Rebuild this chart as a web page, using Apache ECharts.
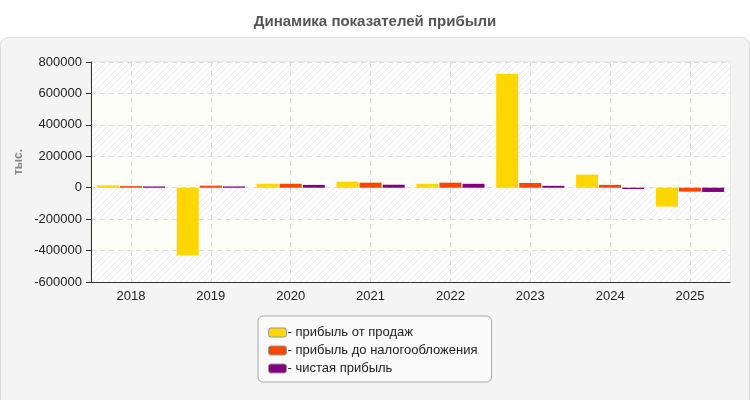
<!DOCTYPE html>
<html>
<head>
<meta charset="utf-8">
<title>Динамика показателей прибыли</title>
<script src="https://cdn.jsdelivr.net/npm/echarts@6/dist/echarts.min.js"></script>
<style>
html, body { margin: 0; padding: 0; background: #fff; }
#container { width: 750px; height: 400px; }
</style>
</head>
<body>
<div id="container"></div>
<script type="text/javascript">

// данные графика
var years = ['2018', '2019', '2020', '2021', '2022', '2023', '2024', '2025'];
var salesProfit = [15000, -431000, 25000, 38000, 25000, 725000, 83000, -120000];
var preTaxProfit = [10000, 13000, 25000, 32000, 32000, 30000, 18000, -25000];
var netProfit = [8000, 8000, 18000, 19000, 25000, 12000, -8000, -27000];
var seriesNames = ['прибыль от продаж', 'прибыль до налогообложения', 'чистая прибыль'];
var seriesColors = ['#ffd700', '#ff4500', '#800080'];

// штриховка для полос фона
function hatch() {
	var c = document.createElement('canvas');
	c.width = 6;
	c.height = 6;
	var ctx = c.getContext('2d');
	ctx.fillStyle = '#fdfdfd';
	ctx.fillRect(0, 0, 6, 6);
	ctx.strokeStyle = '#ececec';
	ctx.lineWidth = 1;
	ctx.beginPath();
	ctx.moveTo(0, 6); ctx.lineTo(6, 0);
	ctx.moveTo(-3, 3); ctx.lineTo(3, -3);
	ctx.moveTo(3, 9); ctx.lineTo(9, 3);
	ctx.stroke();
	return { image: c, repeat: 'repeat' };
}

var chart = echarts.init(document.getElementById('container'));

var option = {
	animation: false,
	backgroundColor: '#fff',
	textStyle: { fontFamily: 'Liberation Sans, Arial, sans-serif' },
	graphic: [{
		type: 'rect',
		z: -10,
		shape: { x: 0.5, y: 37.5, width: 749, height: 380, r: 8 },
		style: { fill: '#f4f4f4', stroke: '#dcdcdc', lineWidth: 1 }
	}, {
		type: 'text',
		x: 19,
		y: 162,
		rotation: Math.PI / 2,
		style: {
			text: 'тыс.',
			align: 'center',
			verticalAlign: 'middle',
			fill: '#888',
			font: 'bold 12px "Liberation Sans", Arial, sans-serif'
		}
	}],
	title: {
		text: 'Динамика показателей прибыли',
		left: 'center',
		top: 9,
		textStyle: { fontSize: 15, fontWeight: 'bold', color: '#555' }
	},
	legend: {
		orient: 'vertical',
		left: 258,
		top: 316,
		data: seriesNames,
		backgroundColor: '#fafafa',
		borderColor: '#aaa',
		borderWidth: 1,
		borderRadius: 5,
		padding: [10, 14, 7, 10],
		itemGap: 5,
		itemWidth: 18,
		itemHeight: 9,
		icon: 'roundRect',
		itemStyle: { borderColor: '#999', borderWidth: 1 },
		formatter: function (name) { return '- ' + name; },
		textStyle: { fontSize: 13, color: '#222', padding: [0, 0, 0, -4] }
	},
	grid: {
		left: 91,
		right: 20,
		top: 62,
		bottom: 118,
		show: true,
		borderColor: '#ddd',
		borderWidth: 1,
		backgroundColor: 'transparent'
	},
	xAxis: {
		type: 'category',
		data: years,
		axisLine: { onZero: false, lineStyle: { color: '#333' } },
		axisTick: { alignWithLabel: true, length: 5, lineStyle: { color: '#333' } },
		axisLabel: { fontSize: 13, color: '#222', margin: 8 },
		splitLine: { show: true, alignWithLabel: true, lineStyle: { color: '#ddd', type: [5, 4] } }
	},
	yAxis: {
		type: 'value',
		min: -600000,
		max: 800000,
		interval: 200000,
		axisLine: { show: true, lineStyle: { color: '#333' } },
		axisTick: { show: true, length: 5, lineStyle: { color: '#333' } },
		axisLabel: { fontSize: 13, color: '#222', margin: 9, formatter: function (v) { return String(v); } },
		splitLine: { show: true, lineStyle: { color: '#ddd', type: [5, 4] } },
		splitArea: { show: true, areaStyle: { color: [hatch(), '#fefef8'] } }
	},
	series: [
		{ name: seriesNames[0], type: 'bar', data: salesProfit, barWidth: 22, barGap: '5%', itemStyle: { color: seriesColors[0] } },
		{ name: seriesNames[1], type: 'bar', data: preTaxProfit, barWidth: 22, barGap: '5%', itemStyle: { color: seriesColors[1] } },
		{ name: seriesNames[2], type: 'bar', data: netProfit, barWidth: 22, barGap: '5%', itemStyle: { color: seriesColors[2] } }
	]
};

chart.setOption(option);
</script>
</body>
</html>
